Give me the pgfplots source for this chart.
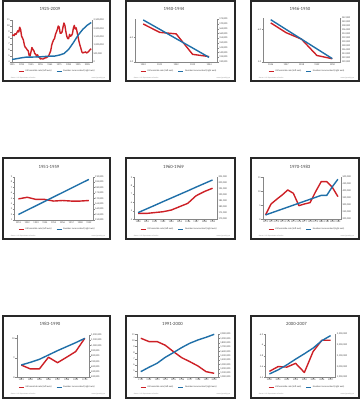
\documentclass[border=0pt]{standalone}
\usepackage{fontspec}
\setmainfont{Carlito}
\usepackage{pgfplots}
\pgfplotsset{compat=1.18}
\definecolor{hred}{RGB}{205,32,38}
\definecolor{hblue}{RGB}{31,111,168}
\definecolor{axgray}{RGB}{134,134,134}
\definecolor{txt}{RGB}{64,64,64}
\definecolor{frm}{RGB}{40,40,40}
\pgfplotsset{
  base/.style={
    scale only axis,
    axis line style={draw=axgray, line width=0.7pt},
    tick style={draw=axgray, line width=0.6pt},
    major tick length=2.5pt,
    tick align=outside,
    ticklabel style={font=\fontsize{5}{6}\selectfont, text=txt, inner sep=1.2pt},
    /pgf/number format/assume math mode=true,
    scaled y ticks=false,
    xticklabel style={/pgf/number format/1000 sep={}},
    clip=false,
  },
  leftax/.style={base, axis x line*=bottom, axis y line*=left},
  rightax/.style={base, axis x line=none, axis y line*=right,
    yticklabel style={/pgf/number format/fixed, /pgf/number format/1000 sep={,}},
    legend columns=2, legend cell align=left,
    legend style={draw=none, fill=none, font=\fontsize{4.8}{5.5}\selectfont, text=txt,
      anchor=center, inner sep=0pt,
      /tikz/every even column/.append style={column sep=7pt}},
    legend image code/.code={\draw[##1, line width=2.4pt] (0pt,0pt) -- (10pt,0pt);},
  },
  redl/.style={hred, line width=2.8pt, line join=round},
  bluel/.style={hblue, line width=2.8pt, line join=round},
}
\newcommand{\titl}[2]{\node[font=\fontsize{9.5}{11}\selectfont, text=txt] at (#1) {#2};}
\newcommand{\srcs}[3]{%
  \node[anchor=west, font=\fontsize{3.5}{4}\selectfont, text=axgray] at (#1) {Source: U.S. Department of Justice};
  \node[anchor=east, font=\fontsize{3.5}{4}\selectfont, text=axgray] at (#2) {#3};}
\begin{document}
\begin{tikzpicture}
\path[use as bounding box] (0pt,0pt) rectangle (724pt,-800pt);
% frames
\draw[frm, line width=2.8pt] (6pt,-2pt) rectangle (220pt,-162pt);
\draw[frm, line width=2.8pt] (252pt,-2pt) rectangle (470pt,-162pt);
\draw[frm, line width=2.8pt] (502pt,-2pt) rectangle (718pt,-162pt);
\draw[frm, line width=2.8pt] (6pt,-316pt) rectangle (220pt,-478pt);
\draw[frm, line width=2.8pt] (252pt,-316pt) rectangle (470pt,-478pt);
\draw[frm, line width=2.8pt] (502pt,-316pt) rectangle (718pt,-478pt);
\draw[frm, line width=2.8pt] (6pt,-632pt) rectangle (220pt,-796pt);
\draw[frm, line width=2.8pt] (252pt,-632pt) rectangle (470pt,-796pt);
\draw[frm, line width=2.8pt] (502pt,-632pt) rectangle (718pt,-796pt);
% titles
\titl{100pt,-18pt}{1925-2009}
\titl{348pt,-18pt}{1940-1944}
\titl{600pt,-18pt}{1946-1950}
\titl{98pt,-333pt}{1951-1959}
\titl{347pt,-333pt}{1960-1969}
\titl{600pt,-334pt}{1970-1983}
\titl{100pt,-648pt}{1983-1990}
\titl{345pt,-647pt}{1991-2000}
\titl{593pt,-648pt}{2000-2007}
% sources
\srcs{18pt,-157pt}{214pt,-157pt}{www.ojp.usdoj.gov}
\srcs{264pt,-157pt}{464pt,-157pt}{www.ojp.usdoj.gov}
\srcs{514pt,-157pt}{712pt,-157pt}{www.ojp.usdoj.gov}
\srcs{18pt,-472pt}{214pt,-472pt}{www.ojp.usdoj.gov}
\srcs{264pt,-472pt}{464pt,-472pt}{www.ojp.usdoj.gov}
\srcs{514pt,-472pt}{712pt,-472pt}{www.ojp.usdoj.gov}
\srcs{18pt,-788pt}{214pt,-788pt}{www.ojp.usdoj.gov}
\srcs{264pt,-788pt}{464pt,-788pt}{www.ojp.usdoj.gov}
\srcs{514pt,-788pt}{712pt,-788pt}{www.ojp.usdoj.gov}

%%%%%%%% P1 1925-2009
\begin{axis}[leftax, at={(23.4pt,-124pt)}, anchor=south west, width=160pt, height=84pt,
  xmin=1924.5, xmax=2009.5, ymin=4, ymax=11, ytick={4,5,...,11},
  xtick={1925,1935,...,2005}]
\addplot[redl] coordinates {(1925,8.4)(1926,8.5)(1927,8.4)(1928,8.7)(1929,8.6)(1930,8.9)(1931,9.2)(1932,9.0)(1933,9.8)(1934,9.4)(1935,8.3)(1936,8.0)(1937,7.6)(1938,6.8)(1939,6.4)(1940,6.3)(1941,6.0)(1942,5.9)(1943,5.1)(1944,5.0)(1945,5.7)(1946,6.4)(1947,6.1)(1948,5.9)(1949,5.4)(1950,5.3)(1951,4.9)(1952,5.2)(1953,4.8)(1954,4.8)(1955,4.5)(1956,4.6)(1957,4.5)(1958,4.5)(1959,4.6)(1960,4.7)(1961,4.7)(1962,4.8)(1963,4.9)(1964,5.1)(1965,5.5)(1966,5.9)(1967,6.8)(1968,7.3)(1969,7.7)(1970,7.9)(1971,8.6)(1972,9.0)(1973,9.4)(1974,10.0)(1975,9.8)(1976,8.8)(1977,8.8)(1978,9.0)(1979,9.8)(1980,10.5)(1981,10.1)(1982,9.1)(1983,8.3)(1984,7.9)(1985,7.9)(1986,8.6)(1987,8.3)(1988,8.4)(1989,8.7)(1990,9.6)(1991,10.1)(1992,9.5)(1993,9.7)(1994,9.0)(1995,8.2)(1996,7.4)(1997,6.8)(1998,6.3)(1999,5.7)(2000,5.5)(2001,5.6)(2002,5.6)(2003,5.7)(2004,5.5)(2005,5.6)(2006,5.7)(2007,5.9)(2008,6.1)(2009,6.2)};
\end{axis}
\begin{axis}[rightax, at={(23.4pt,-124pt)}, anchor=south west, width=160pt, height=84pt,
  xmin=1924.5, xmax=2009.5, ymin=0, ymax=2500000, ytick={0,500000,...,2500000},
  legend style={at={(0.566,-0.221)}}]
\addlegendimage{redl}\addlegendentry{US homicide rate (left axis)}
\addplot[bluel] coordinates {(1925,150000)(1930,200000)(1935,250000)(1940,290000)(1945,290000)(1950,300000)(1955,310000)(1960,330000)(1965,345000)(1970,350000)(1975,410000)(1980,500000)(1985,750000)(1990,1150000)(1995,1590000)(2000,1940000)(2005,2200000)(2009,2350000)};
\addlegendentry{Number incarcerated (right axis)}
\end{axis}

%%%%%%%% P2 1940-1944
\begin{axis}[leftax, at={(270pt,-124pt)}, anchor=south west, width=164.6pt, height=85.4pt,
  xmin=1939.5, xmax=1944.5, ymin=5, ymax=6.73, ytick={5,6},
  yticklabel={\pgfmathprintnumber[fixed,fixed zerofill,precision=1]{\tick}},
  xtick={1940,...,1944}]
\addplot[redl] coordinates {(1940,6.54)(1941,6.20)(1942,6.14)(1943,5.31)(1944,5.22)};
\end{axis}
\begin{axis}[rightax, at={(270pt,-124pt)}, anchor=south west, width=164.6pt, height=85.4pt,
  xmin=1939.5, xmax=1944.5, ymin=130000, ymax=175000, ytick={130000,135000,...,175000},
  legend style={at={(0.532,-0.218)}}]
\addlegendimage{redl}\addlegendentry{US homicide rate (left axis)}
\addplot[bluel] coordinates {(1940,174300)(1941,164500)(1942,154600)(1943,144800)(1944,134900)};
\addlegendentry{Number incarcerated (right axis)}
\end{axis}

%%%%%%%% P3 1946-1950
\begin{axis}[leftax, at={(526pt,-124pt)}, anchor=south west, width=154pt, height=87.4pt,
  xmin=1945.5, xmax=1950.5, ymin=5, ymax=6.34, ytick={5,6},
  yticklabel={\pgfmathprintnumber[fixed,fixed zerofill,precision=1]{\tick}},
  xtick={1946,...,1950}]
\addplot[redl] coordinates {(1946,6.20)(1947,5.90)(1948,5.70)(1949,5.20)(1950,5.10)};
\end{axis}
\begin{axis}[rightax, at={(526pt,-124pt)}, anchor=south west, width=154pt, height=87.4pt,
  xmin=1945.5, xmax=1950.5, ymin=120000, ymax=142000, ytick={120000,122000,...,142000},
  legend style={at={(0.568,-0.213)}}]
\addlegendimage{redl}\addlegendentry{US homicide rate (left axis)}
\addplot[bluel] coordinates {(1946,141300)(1947,136400)(1948,131500)(1949,126600)(1950,121700)};
\addlegendentry{Number incarcerated (right axis)}
\end{axis}

%%%%%%%% P4 1951-1959
\begin{axis}[leftax, at={(28pt,-440pt)}, anchor=south west, width=158.6pt, height=86.6pt,
  xmin=1950.5, xmax=1959.5, ymin=1, ymax=9, ytick={1,2,...,9},
  xtick={1951,...,1959}]
\addplot[redl] coordinates {(1951,4.9)(1952,5.2)(1953,4.8)(1954,4.8)(1955,4.5)(1956,4.6)(1957,4.5)(1958,4.5)(1959,4.6)};
\end{axis}
\begin{axis}[rightax, at={(28pt,-440pt)}, anchor=south west, width=158.6pt, height=86.6pt,
  xmin=1950.5, xmax=1959.5, ymin=150000, ymax=190000, ytick={150000,155000,...,190000},
  legend style={at={(0.542,-0.215)}}]
\addlegendimage{redl}\addlegendentry{US homicide rate (left axis)}
\addplot[bluel] coordinates {(1951,155100)(1952,159150)(1953,163200)(1954,167250)(1955,171300)(1956,175350)(1957,179400)(1958,183450)(1959,187500)};
\addlegendentry{Number incarcerated (right axis)}
\end{axis}

%%%%%%%% P5 1960-1969
\begin{axis}[leftax, at={(268pt,-438.6pt)}, anchor=south west, width=165.4pt, height=84pt,
  xmin=1959.5, xmax=1969.5, ymin=4, ymax=9, ytick={4,5,...,9},
  xtick={1960,...,1969}]
\addplot[redl] coordinates {(1960,4.7)(1961,4.7)(1962,4.8)(1963,4.9)(1964,5.1)(1965,5.5)(1966,5.9)(1967,6.8)(1968,7.3)(1969,7.7)};
\end{axis}
\begin{axis}[rightax, at={(268pt,-438.6pt)}, anchor=south west, width=165.4pt, height=84pt,
  xmin=1959.5, xmax=1969.5, ymin=170000, ymax=205000, ytick={170000,175000,...,205000},
  legend style={at={(0.542,-0.238)}}]
\addlegendimage{redl}\addlegendentry{US homicide rate (left axis)}
\addplot[bluel] coordinates {(1960,175600)(1961,178600)(1962,181600)(1963,184700)(1964,187700)(1965,190700)(1966,193700)(1967,196800)(1968,199800)(1969,202800)};
\addlegendentry{Number incarcerated (right axis)}
\end{axis}

%%%%%%%% P6 1970-1983
\begin{axis}[leftax, at={(525.4pt,-438.6pt)}, anchor=south west, width=156pt, height=84pt,
  xmin=1969.5, xmax=1983.5, ymin=0, ymax=15, ytick={0,5,10,15},
  xtick={1970,...,1983}]
\addplot[redl] coordinates {(1970,1.55)(1971,5.48)(1972,7.14)(1973,8.69)(1974,10.48)(1975,9.29)(1976,4.88)(1977,5.48)(1978,5.95)(1979,9.88)(1980,13.45)(1981,13.45)(1982,11.43)(1983,8.10)};
\end{axis}
\begin{axis}[rightax, at={(525.4pt,-438.6pt)}, anchor=south west, width=156pt, height=84pt,
  xmin=1969.5, xmax=1983.5, ymin=200000, ymax=500000, ytick={200000,250000,...,500000},
  legend style={at={(0.564,-0.238)}}]
\addlegendimage{redl}\addlegendentry{US homicide rate (left axis)}
\addplot[bluel] coordinates {(1970,231000)(1971,245000)(1972,259000)(1973,273000)(1974,287000)(1975,301000)(1976,315000)(1977,329000)(1978,343000)(1979,357000)(1980,371000)(1981,371000)(1982,433000)(1983,486000)};
\addlegendentry{Number incarcerated (right axis)}
\end{axis}

%%%%%%%% P7 1983-1990
\begin{axis}[leftax, at={(33.4pt,-754.6pt)}, anchor=south west, width=145.2pt, height=84.6pt,
  xmin=1982.5, xmax=1990.5, ymin=8, ymax=10.17, ytick={8,9,10},
  xtick={1983,...,1990}]
\addplot[redl] coordinates {(1983,8.63)(1984,8.43)(1985,8.43)(1986,9.03)(1987,8.75)(1988,9.03)(1989,9.32)(1990,10.0)};
\end{axis}
\begin{axis}[rightax, at={(33.4pt,-754.6pt)}, anchor=south west, width=145.2pt, height=84.6pt,
  xmin=1982.5, xmax=1990.5, ymin=400000, ymax=1200000, ytick={400000,500000,...,1200000},
  legend style={at={(0.555,-0.236)}}]
\addlegendimage{redl}\addlegendentry{US homicide rate (left axis)}
\addplot[bluel] coordinates {(1983,633000)(1984,683000)(1985,740000)(1986,822000)(1987,904000)(1988,980000)(1989,1055000)(1990,1137000)};
\addlegendentry{Number incarcerated (right axis)}
\end{axis}

%%%%%%%% P8 1991-2000
\begin{axis}[leftax, at={(273.4pt,-754.6pt)}, anchor=south west, width=163.2pt, height=86pt,
  xmin=1990.5, xmax=2000.5, ymin=4, ymax=11, ytick={4,5,...,11},
  xtick={1991,...,2000}]
\addplot[redl] coordinates {(1991,10.36)(1992,9.82)(1993,9.82)(1994,9.22)(1995,8.18)(1996,7.21)(1997,6.55)(1998,5.85)(1999,4.92)(2000,4.65)};
\end{axis}
\begin{axis}[rightax, at={(273.4pt,-754.6pt)}, anchor=south west, width=163.2pt, height=86pt,
  xmin=1990.5, xmax=2000.5, ymin=1000000, ymax=2000000, ytick={1000000,1100000,...,2000000},
  legend style={at={(0.516,-0.233)}}]
\addlegendimage{redl}\addlegendentry{US homicide rate (left axis)}
\addplot[bluel] coordinates {(1991,1132000)(1992,1233000)(1993,1326000)(1994,1465000)(1995,1574000)(1996,1690000)(1997,1791000)(1998,1868000)(1999,1930000)(2000,2000000)};
\addlegendentry{Number incarcerated (right axis)}
\end{axis}

%%%%%%%% P9 2000-2007
\begin{axis}[leftax, at={(530pt,-754.6pt)}, anchor=south west, width=140pt, height=86pt,
  xmin=1999.5, xmax=2007.5, ymin=5.4, ymax=6.2, ytick={5.4,5.6,5.8,6.0,6.2},
  xtick={2000,...,2007}]
\addplot[redl] coordinates {(2000,5.51)(2001,5.60)(2002,5.59)(2003,5.66)(2004,5.49)(2005,5.88)(2006,6.09)(2007,6.09)};
\end{axis}
\begin{axis}[rightax, at={(530pt,-754.6pt)}, anchor=south west, width=140pt, height=86pt,
  xmin=1999.5, xmax=2007.5, ymin=1900000, ymax=2300000, ytick={1900000,2000000,...,2300000},
  legend style={at={(0.596,-0.233)}}]
\addlegendimage{redl}\addlegendentry{US homicide rate (left axis)}
\addplot[bluel] coordinates {(2000,1931000)(2001,1969000)(2002,2016000)(2003,2069000)(2004,2119000)(2005,2172000)(2006,2241000)(2007,2288000)};
\addlegendentry{Number incarcerated (right axis)}
\end{axis}
\end{tikzpicture}
\end{document}
